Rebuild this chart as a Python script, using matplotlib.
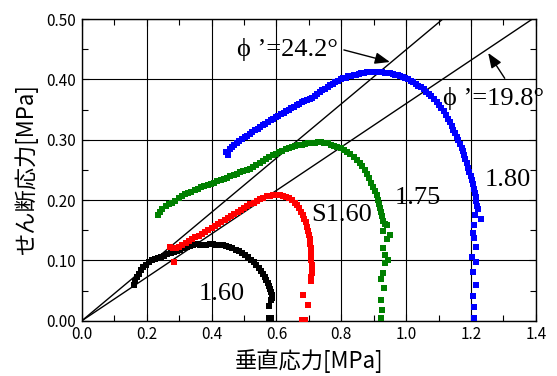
import numpy as np
import matplotlib
matplotlib.use("Agg")
import matplotlib.pyplot as plt
from matplotlib.ticker import MultipleLocator, FormatStrFormatter

plt.rcParams['font.family'] = ['Noto Sans CJK JP', 'DejaVu Sans']

# ---- data ----
black_x = [0.160,0.165,0.170,0.176,0.183,0.190,0.198,0.206,0.215,0.224,0.234,0.244,0.254,0.264,0.274,0.284,
           0.294,0.304,0.314,0.324,0.334,0.344,0.354,0.364,0.374,0.384,0.394,0.404,0.414,0.424,0.434,0.444,
           0.454,0.464,0.474,0.484,0.494,0.503,0.512,0.521,0.530,0.538,0.545,0.552,0.558,0.564,0.569,0.573,
           0.577,0.580,0.583,0.585,0.585,0.583,0.578,0.576,0.584]
black_y = [0.060,0.066,0.072,0.078,0.084,0.089,0.093,0.097,0.100,0.102,0.104,0.106,0.108,0.110,0.112,0.114,
           0.116,0.118,0.120,0.122,0.124,0.126,0.127,0.126,0.125,0.126,0.127,0.127,0.126,0.126,0.125,0.124,
           0.122,0.120,0.118,0.115,0.112,0.109,0.105,0.101,0.097,0.093,0.088,0.083,0.078,0.073,0.068,0.063,
           0.058,0.053,0.048,0.043,0.038,0.035,0.024,0.004,0.004]

red_x = [0.271,0.285,0.280,0.290,0.300,0.310,0.320,0.330,0.340,0.350,0.360,0.370,0.380,0.390,0.400,0.410,
         0.420,0.430,0.440,0.450,0.460,0.470,0.480,0.490,0.500,0.510,0.520,0.530,0.540,0.550,0.560,0.570,
         0.580,0.590,0.600,0.610,0.620,0.630,0.640,0.648,0.656,0.663,0.670,0.676,0.681,0.686,0.690,0.694,
         0.697,0.700,0.702,0.704,0.706,0.707,0.708,0.708,0.709,0.709,0.709,0.708,0.707,0.682,0.698,0.678,0.688]
red_y = [0.123,0.097,0.120,0.121,0.123,0.126,0.129,0.132,0.135,0.138,0.141,0.144,0.147,0.151,0.154,0.157,
         0.161,0.164,0.167,0.171,0.174,0.177,0.181,0.184,0.187,0.190,0.193,0.196,0.199,0.202,0.204,0.206,
         0.207,0.208,0.209,0.209,0.207,0.205,0.203,0.200,0.196,0.192,0.187,0.181,0.175,0.169,0.163,0.156,
         0.149,0.142,0.135,0.128,0.121,0.114,0.107,0.100,0.093,0.086,0.079,0.072,0.066,0.043,0.026,0.001,0.001]

green_x = [0.236,0.240,0.248,0.258,0.268,0.278,0.288,0.298,0.308,0.318,0.328,0.338,0.348,0.358,0.368,0.378,
           0.388,0.398,0.408,0.418,0.428,0.438,0.448,0.458,0.468,0.478,0.488,0.498,0.508,0.518,0.528,0.538,
           0.548,0.558,0.568,0.578,0.588,0.598,0.608,0.618,0.628,0.638,0.648,0.658,0.668,0.678,0.688,0.698,
           0.708,0.718,0.728,0.738,0.748,0.758,0.768,0.778,0.788,0.798,0.808,0.818,0.828,0.838,0.848,0.857,
           0.865,0.873,0.880,0.887,0.893,0.899,0.904,0.909,0.913,0.917,0.920,0.923,0.926,0.930,0.934,0.942,
           0.929,0.950,0.940,0.929,0.934,0.945,0.934,0.929,0.921,0.931,0.921,0.927,0.921]
green_y = [0.176,0.181,0.186,0.190,0.193,0.196,0.199,0.203,0.207,0.210,0.212,0.214,0.217,0.219,0.221,0.223,
           0.225,0.227,0.229,0.231,0.233,0.235,0.237,0.240,0.242,0.244,0.246,0.248,0.250,0.252,0.255,0.258,
           0.262,0.265,0.268,0.271,0.274,0.277,0.280,0.282,0.284,0.286,0.288,0.289,0.291,0.292,0.293,0.294,
           0.294,0.295,0.296,0.296,0.295,0.294,0.292,0.290,0.288,0.286,0.283,0.280,0.276,0.272,0.267,0.262,
           0.256,0.250,0.243,0.236,0.229,0.222,0.215,0.208,0.201,0.194,0.187,0.180,0.173,0.166,0.160,0.159,
           0.148,0.142,0.135,0.120,0.109,0.101,0.095,0.079,0.069,0.054,0.035,0.018,0.004]

blue_x = [0.446,0.452,0.456,0.462,0.470,0.478,0.486,0.494,0.502,0.510,0.518,0.526,0.534,0.542,0.550,0.558,
          0.566,0.574,0.582,0.590,0.598,0.606,0.614,0.622,0.630,0.638,0.646,0.654,0.662,0.670,0.678,0.686,
          0.694,0.702,0.710,0.718,0.726,0.734,0.742,0.750,0.758,0.766,0.774,0.782,0.790,0.798,0.806,0.814,
          0.822,0.830,0.838,0.846,0.854,0.862,0.870,0.878,0.886,0.894,0.902,0.910,0.918,0.926,0.934,0.942,
          0.950,0.958,0.966,0.974,0.982,0.990,0.998,1.006,1.014,1.022,1.030,1.038,1.046,1.054,1.062,1.070,
          1.078,1.086,1.094,1.102,1.109,1.116,1.122,1.128,1.134,1.140,1.146,1.151,1.156,1.161,1.166,1.171,
          1.175,1.179,1.183,1.187,1.191,1.195,1.199,1.202,1.205,1.208,1.211,1.214,1.217,1.219,1.221,
          1.232,1.212,1.209,1.207,1.209,1.217,1.202,1.215,1.205,1.215,1.205,1.209,1.209]
blue_y = [0.280,0.274,0.284,0.288,0.292,0.295,0.298,0.301,0.304,0.307,0.310,0.313,0.316,0.318,0.321,0.324,
          0.326,0.329,0.332,0.335,0.337,0.340,0.342,0.345,0.347,0.350,0.353,0.355,0.358,0.360,0.362,0.364,
          0.366,0.368,0.370,0.373,0.376,0.379,0.382,0.385,0.388,0.391,0.393,0.396,0.398,0.400,0.402,0.403,
          0.405,0.406,0.407,0.408,0.409,0.410,0.411,0.412,0.413,0.413,0.412,0.413,0.413,0.412,0.411,0.411,
          0.410,0.409,0.408,0.407,0.406,0.404,0.402,0.400,0.398,0.396,0.393,0.390,0.387,0.384,0.380,0.376,
          0.372,0.368,0.363,0.358,0.353,0.347,0.341,0.335,0.329,0.323,0.317,0.311,0.305,0.299,0.293,0.287,
          0.281,0.275,0.268,0.261,0.254,0.247,0.240,0.233,0.226,0.219,0.212,0.205,0.198,0.191,0.185,
          0.168,0.175,0.158,0.145,0.137,0.123,0.106,0.098,0.080,0.059,0.041,0.022,0.004]

series_colors = ['black', 'red', 'green', 'blue']
phi_angles = [24.2, 19.8]

xticks = [0.0, 0.2, 0.4, 0.6, 0.8, 1.0, 1.2, 1.4]
yticks = [0.00, 0.10, 0.20, 0.30, 0.40, 0.50]

# ---- figure ----
fig = plt.figure(figsize=(5.57, 3.76), dpi=100)
ax = fig.add_axes([0.147, 0.147, 0.815, 0.802])

ax.set_xlim(0, 1.4)
ax.set_ylim(0, 0.5)
ax.set_xticks(xticks)
ax.set_yticks(yticks)
ax.xaxis.set_minor_locator(MultipleLocator(0.1))
ax.yaxis.set_minor_locator(MultipleLocator(0.05))
ax.xaxis.set_major_formatter(FormatStrFormatter('%.1f'))
ax.yaxis.set_major_formatter(FormatStrFormatter('%.2f'))
ax.grid(True, which='major', color='black', linewidth=0.8)
ax.set_axisbelow(True)
ax.tick_params(which='both', direction='in', top=True, right=True, labelsize=11, pad=4)
ax.tick_params(which='major', length=5, width=0.8)
ax.tick_params(which='minor', length=4, width=0.8)
for s in ax.spines.values():
    s.set_linewidth(1.0)
    s.set_color('black')

# failure envelopes
for ang in phi_angles:
    t = np.tan(np.radians(ang))
    xe = min(1.4, 0.5 / t)
    ax.plot([0, xe], [0, xe * t], color='black', linewidth=1.0, zorder=3)

ms = 5.0
for xs, ys, c in zip([black_x, red_x, green_x, blue_x], [black_y, red_y, green_y, blue_y], series_colors):
    ax.plot(xs, ys, linestyle='none', marker='s', markersize=ms, color=c, markeredgewidth=0, zorder=4)

serif = ['Liberation Serif', 'DejaVu Serif']
fs = 19
ax.text(0.359, 0.045, '1.60', fontsize=fs, family=serif, va='center', ha='left', zorder=5)
ax.text(0.708, 0.175, 'S1.60', fontsize=fs, family=serif, va='center', ha='left', zorder=5)
ax.text(0.965, 0.203, '1.75', fontsize=fs, family=serif, va='center', ha='left', zorder=5)
ax.text(1.243, 0.233, '1.80', fontsize=fs, family=serif, va='center', ha='left', zorder=5)
ax.text(0.477, 0.449, '\u03d5 \u2019=24.2\u00b0', fontsize=fs, family=serif, va='center', ha='left', zorder=5)
ax.text(1.114, 0.368, '\u03d5 \u2019=19.8\u00b0', fontsize=fs, family=serif, va='center', ha='left',
        zorder=5, clip_on=False)

arrow = dict(arrowstyle='-|>,head_length=0.9,head_width=0.35', color='black', lw=1.0, shrinkA=0, shrinkB=0)
ax.annotate('', xy=(0.95, 0.429), xytext=(0.808, 0.449), arrowprops=arrow, zorder=5)
ax.annotate('', xy=(1.253, 0.444), xytext=(1.304, 0.402), arrowprops=arrow, zorder=5)

ax.set_xlabel('垂直応力[MPa]', fontsize=16, labelpad=4)
ax.set_ylabel('せん断応力[MPa]', fontsize=16, labelpad=6)

fig.savefig('out.png', dpi=100)
